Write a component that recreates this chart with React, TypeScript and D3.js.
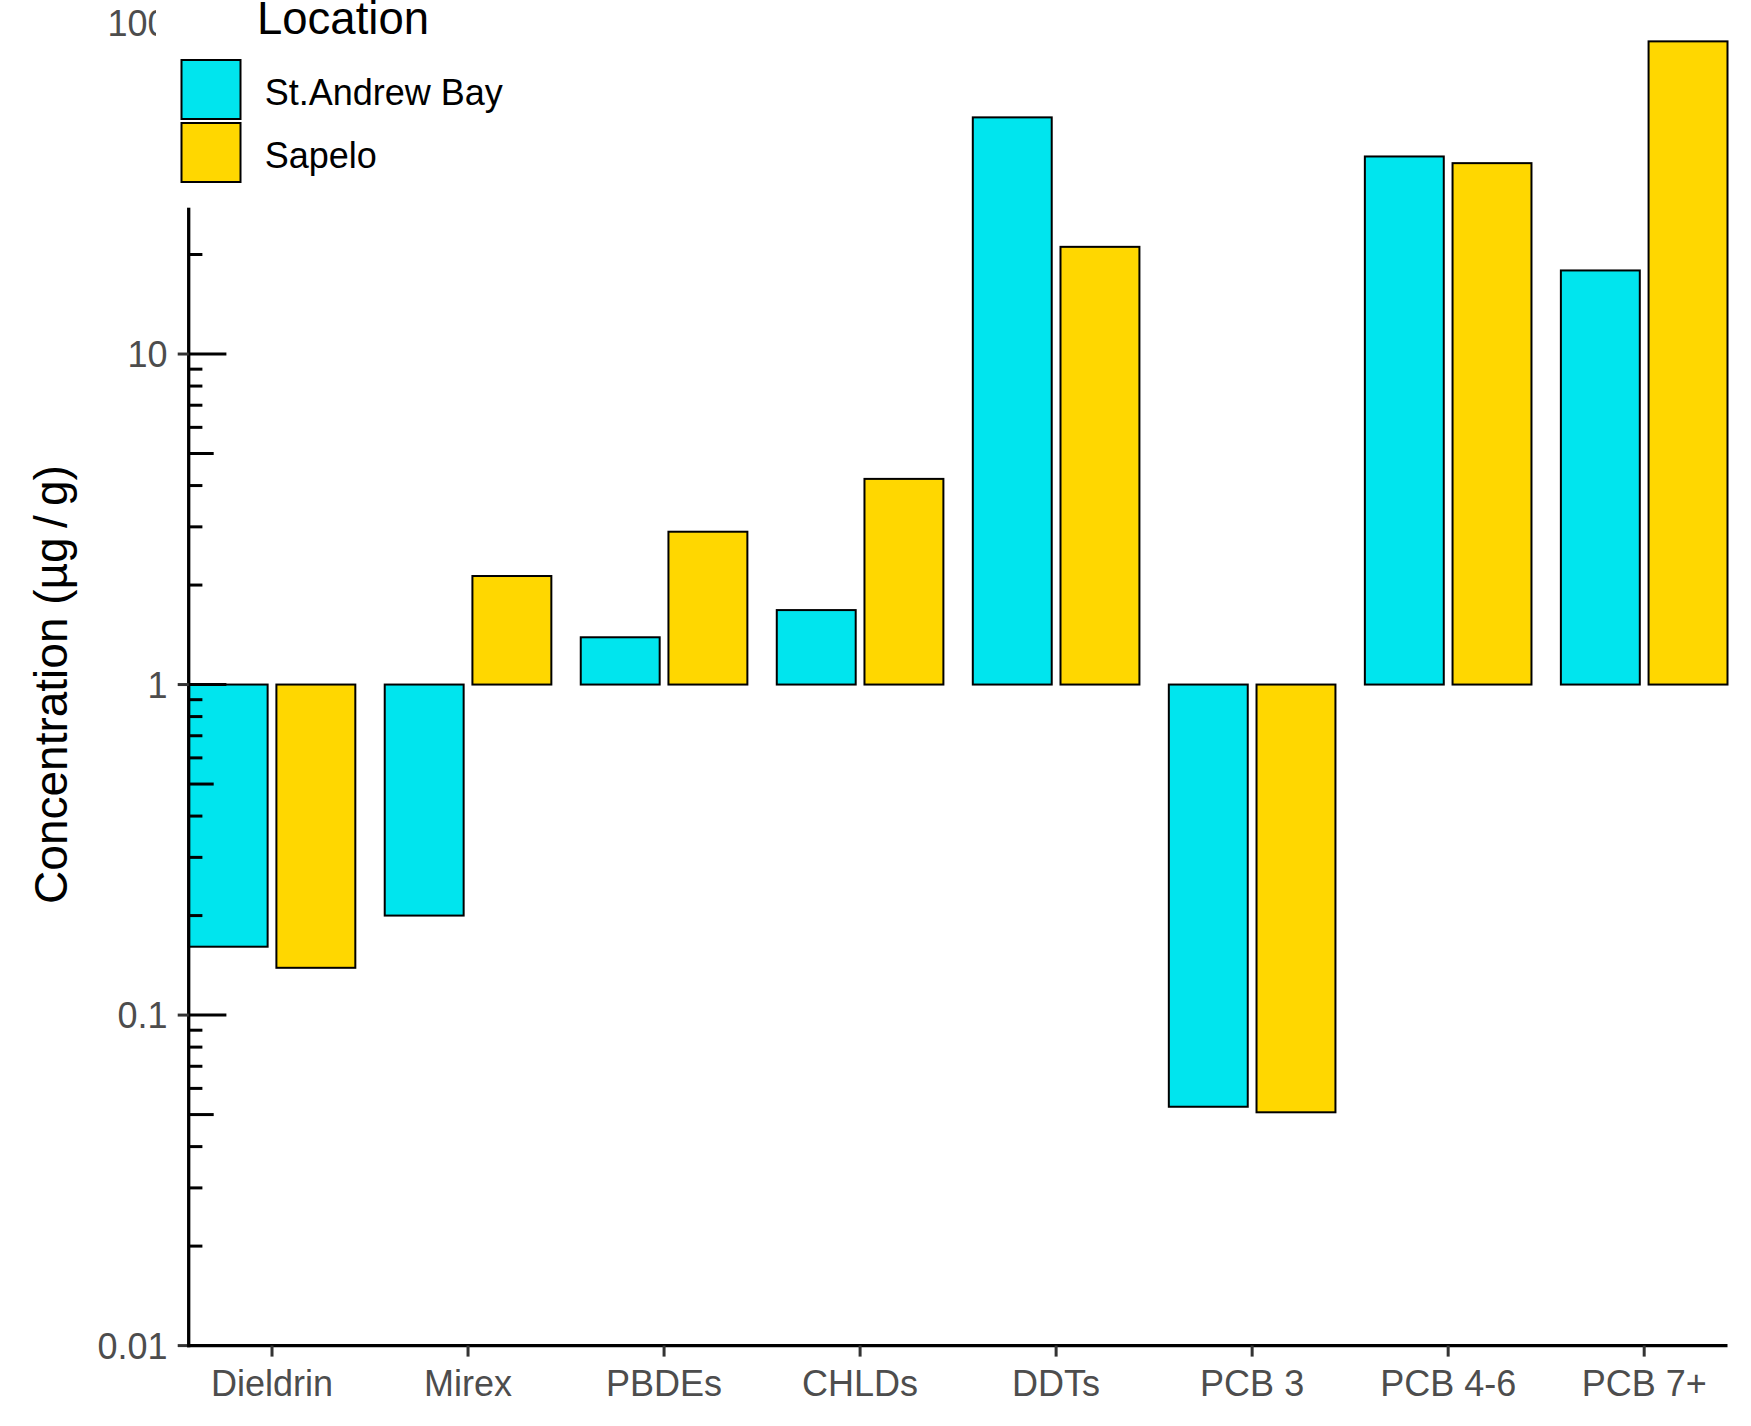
import React from "react";
import * as d3 from "d3";

const categories = ["Dieldrin", "Mirex", "PBDEs", "CHLDs", "DDTs", "PCB 3", "PCB 4-6", "PCB 7+"];
const seriesNames = ["St.Andrew Bay", "Sapelo"];
const stAndrewBay = [0.161, 0.2, 1.39, 1.68, 52.0, 0.0528, 39.6, 17.9];
const sapelo = [0.139, 2.13, 2.9, 4.19, 21.1, 0.0508, 37.8, 88.3];
const yTickValues = [0.01, 0.1, 1, 10, 100];
const yTickLabels = ["0.01", "0.1", "1", "10", "100"];
const seriesColors = ["#00E5EE", "#FFD700"];

const W = 1751;
const H = 1426;
const FONT = "'Liberation Sans', Arial, sans-serif";

export default function App() {
  const xLeft = 188.7;
  const xRight = 1727.5;
  const yTop = 23.5;
  const yBottom = 1345.6;

  const x = d3.scaleBand<string>().domain(categories).range([xLeft, xRight]).paddingInner(0.15).paddingOuter(0);
  const xInner = d3.scaleBand<string>().domain(seriesNames).range([0, x.bandwidth()]).paddingInner(0.1);
  const y = d3.scaleLog().domain([0.01, 100]).range([yBottom, yTop]);

  const seriesData = [stAndrewBay, sapelo];

  // log ticks
  const logTicks: { v: number; kind: number }[] = [];
  for (let e = -2; e <= 1; e++) {
    for (let k = 1; k <= 9; k++) {
      logTicks.push({ v: k * Math.pow(10, e), kind: k === 1 ? 0 : k === 5 ? 1 : 2 });
    }
  }
  logTicks.push({ v: 100, kind: 0 });
  const tickLen = [37.7, 25, 13.7];

  const legendTop = 60;
  const keySize = 59;

  return (
    <svg width={W} height={H} style={{ position: "absolute", left: 0, top: 0, background: "#fff" }} fontFamily={FONT}>
      <rect x={0} y={0} width={W} height={H} fill="#fff" />
      {/* bars */}
      {categories.map((c, i) => (
        <g key={c} transform={`translate(${x(c)},0)`}>
          {seriesNames.map((s, j) => {
            const v = seriesData[j][i];
            const y0 = y(1);
            const y1 = y(v);
            return (
              <rect
                key={s}
                x={xInner(s)}
                y={Math.min(y0, y1)}
                width={xInner.bandwidth()}
                height={Math.abs(y1 - y0)}
                fill={seriesColors[j]}
                stroke="#000"
                strokeWidth={2}
              />
            );
          })}
        </g>
      ))}
      {/* log ticks inside panel */}
      {logTicks.map((t, i) => (
        <line key={i} x1={xLeft} x2={xLeft + tickLen[t.kind]} y1={y(t.v)} y2={y(t.v)} stroke="#000" strokeWidth={3} />
      ))}
      {/* y axis */}
      <line x1={xLeft} x2={xLeft} y1={yTop - 5} y2={yBottom + 1.6} stroke="#000" strokeWidth={3.3} />
      {yTickValues.map((v, i) => (
        <g key={v}>
          <line x1={xLeft - 11} x2={xLeft} y1={y(v)} y2={y(v)} stroke="#333333" strokeWidth={3} />
          <text x={167.5} y={y(v)} dy="0.36em" textAnchor="end" fontSize={36} fill="#4D4D4D">
            {yTickLabels[i]}
          </text>
        </g>
      ))}
      {/* x axis */}
      <line x1={xLeft - 1.6} x2={xRight} y1={yBottom} y2={yBottom} stroke="#000" strokeWidth={3.3} />
      {categories.map((c) => {
        const cx = (x(c) as number) + x.bandwidth() / 2;
        return (
          <g key={c}>
            <line x1={cx} x2={cx} y1={yBottom} y2={yBottom + 11} stroke="#333333" strokeWidth={3} />
            <text x={cx} y={1396} textAnchor="middle" fontSize={36} fill="#4D4D4D">
              {c}
            </text>
          </g>
        );
      })}
      {/* y axis title */}
      <text
        transform={`translate(67,${(yTop + yBottom) / 2}) rotate(-90)`}
        textAnchor="middle"
        fontSize={46}
        fill="#000"
      >
        {"Concentration (µg\u2009/\u2009g)"}
      </text>
      {/* legend */}
      <rect x={156} y={-20} width={380} height={227.7} fill="#fff" />
      <text x={257} y={33.5} fontSize={45.5} fill="#000">
        Location
      </text>
      {seriesNames.map((s, j) => (
        <g key={s}>
          <rect
            x={181.5}
            y={legendTop + j * (keySize + 4)}
            width={keySize}
            height={keySize}
            fill={seriesColors[j]}
            stroke="#000"
            strokeWidth={2}
          />
          <text x={264.7} y={legendTop + 2.5 + j * (keySize + 4) + keySize / 2} dy="0.36em" fontSize={36} fill="#000">
            {s}
          </text>
        </g>
      ))}
    </svg>
  );
}
